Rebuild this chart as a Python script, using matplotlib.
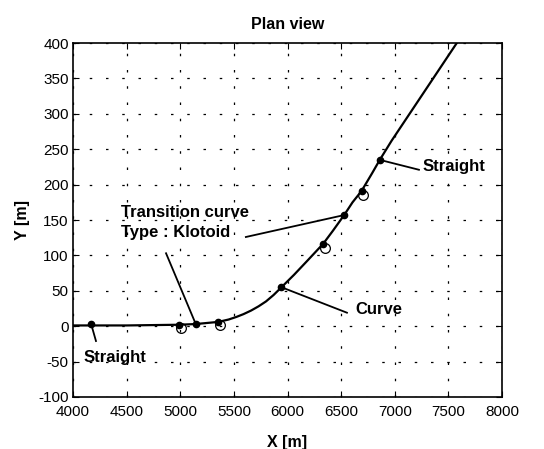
import numpy as np
import matplotlib
matplotlib.use('Agg')
from matplotlib import pyplot as plt

# road alignment
road_x = [4000, 4500, 4990, 5145, 5355, 5452, 5523, 5590, 5660, 5730, 5800, 5870,
          5944, 6061, 6182, 6333, 6424, 6528, 6606, 6690, 6788, 6860, 6970, 7577]
road_y = [1, 1, 2, 3, 6, 9.4, 13, 17, 22, 28, 35, 44,
          55, 72.6, 92, 116.5, 135, 157, 175, 191, 216, 235, 262, 400]

# section change points (filled) and design points (open)
pts_x = [4170, 4990, 5145, 5355, 5944, 6333, 6528, 6690, 6860]
pts_y = [3, 2, 3, 6, 55, 116, 157, 191, 235]
open_x = [5010, 5375, 6352, 6708]
open_y = [-2, 1, 111, 186]

# (text, text position, arrow tip, line start)
notes = [
    ('Straight', (4100, -44), (4170, 3), (4215, -21)),
    ('Curve', (6635, 24), (5944, 55), (6554, 19)),
    ('Straight', (7256, 226), (6860, 235), (7225, 221)),
]

plt.rcParams['font.family'] = ['Liberation Sans', 'DejaVu Sans']
plt.rcParams['axes.unicode_minus'] = False

fig = plt.figure(figsize=(5.44, 4.49), dpi=100)
ax = fig.add_axes([0.134, 0.116, 0.789, 0.788])

ax.plot(road_x, road_y, color='black', lw=1.6)
ax.plot(pts_x, pts_y, 'o', color='black', ms=4.5)
ax.plot(open_x, open_y, 'o', mfc='none', mec='black', ms=7, mew=0.9)

for txt, tpos, tip, start in notes:
    ax.plot([tip[0], start[0]], [tip[1], start[1]], color='black', lw=1.3)
    ax.text(tpos[0], tpos[1], txt, fontsize=12, fontweight='bold', va='center', ha='left')

ax.text(4444, 161, 'Transition curve', fontsize=12, fontweight='bold', va='center')
ax.text(4444, 133, 'Type : Klotoid', fontsize=12, fontweight='bold', va='center')
ax.plot([5612, 6528], [126, 157], color='black', lw=1.3)
ax.plot([4868, 5145], [103, 3], color='black', lw=1.3)

ax.set_xlim(4000, 8000)
ax.set_ylim(-100, 400)
ax.set_xticks(np.arange(4000, 8001, 500))
ax.set_yticks(np.arange(-100, 401, 50))
ax.tick_params(direction='in', top=True, right=True, labelsize=11, length=4, pad=3)
ax.tick_params(axis='x', pad=6)
ax.grid(True, color='black', linestyle=(0, (2, 11)), linewidth=0.9)
for s in ax.spines.values():
    s.set_linewidth(1.2)

ax.set_title('Plan view', fontsize=11.5, fontweight='bold', pad=10)
ax.set_xlabel('X [m]', fontsize=11.5, fontweight='bold', labelpad=11)
ax.set_ylabel('Y [m]', fontsize=11.5, fontweight='bold', labelpad=6)

fig.savefig('out.png', dpi=100)
